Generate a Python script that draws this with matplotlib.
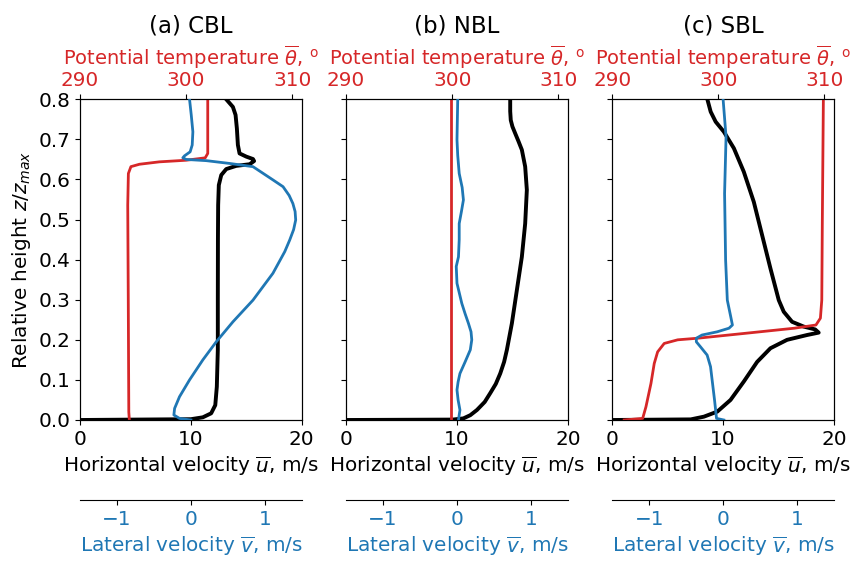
import matplotlib
matplotlib.use("Agg")
import matplotlib.pyplot as plt
import numpy as np

# ---- (a) CBL ----
cbl_z_u = [0.0, 0.002, 0.0067, 0.0167, 0.037, 0.083, 0.175, 0.3, 0.45, 0.536, 0.586, 0.611, 0.626,
           0.634, 0.638, 0.646, 0.651, 0.657, 0.665, 0.686, 0.727, 0.761, 0.781, 0.8]
cbl_u = [0.0, 10.0, 11.08, 11.83, 12.2, 12.34, 12.43, 12.43, 12.44, 12.46, 12.52, 12.74, 13.19,
         14.09, 15.3, 15.7, 15.6, 15.0, 14.39, 14.24, 14.15, 14.03, 13.79, 13.19]
cbl_z_t = [0.0, 0.02, 0.3, 0.536, 0.615, 0.632, 0.638, 0.644, 0.648, 0.654, 0.665, 0.7, 0.8]
cbl_theta = [294.65, 294.6, 294.55, 294.5, 294.56, 294.8, 295.6, 297.48, 300.0, 301.8, 302.04, 302.04, 302.04]
cbl_z_v = [0.0, 0.004, 0.0125, 0.029, 0.058, 0.1, 0.15, 0.195, 0.245, 0.299, 0.366, 0.42, 0.449,
           0.475, 0.499, 0.52, 0.54, 0.56, 0.582, 0.599, 0.632, 0.64, 0.647, 0.65, 0.654, 0.659,
           0.669, 0.686, 0.719, 0.761, 0.8]
cbl_v = [0.0, -0.154, -0.23, -0.22, -0.154, -0.018, 0.162, 0.343, 0.569, 0.84, 1.11, 1.27, 1.337,
         1.39, 1.418, 1.41, 1.38, 1.33, 1.247, 1.11, 0.84, 0.524, 0.208, -0.063, -0.109, -0.086,
         -0.01, 0.018, 0.027, 0.005, -0.018]

# ---- (b) NBL ----
nbl_z_u = [0.0, 0.001, 0.004, 0.012, 0.025, 0.045, 0.067, 0.09, 0.116, 0.145, 0.175, 0.241, 0.324,
           0.407, 0.49, 0.574, 0.632, 0.674, 0.695, 0.715, 0.732, 0.748, 0.77, 0.8]
nbl_u = [0.0, 9.6, 10.58, 11.2, 11.8, 12.5, 13.0, 13.5, 13.9, 14.25, 14.5, 14.95, 15.4,
         15.85, 16.15, 16.3, 16.15, 15.85, 15.55, 15.25, 15.0, 14.85, 14.8, 14.8]
nbl_z_t = [0.0, 0.8]
nbl_theta = [299.9, 299.9]
nbl_z_v = [0.0, 0.025, 0.05, 0.075, 0.095, 0.116, 0.145, 0.175, 0.2, 0.22, 0.241, 0.265, 0.291,
           0.341, 0.383, 0.407, 0.45, 0.49, 0.52, 0.549, 0.58, 0.615, 0.66, 0.699, 0.75, 0.8]
nbl_v = [0.02, 0.04, 0.015, 0.0, 0.015, 0.04, 0.11, 0.18, 0.2, 0.19, 0.155, 0.11, 0.065,
         0.0, -0.01, 0.02, 0.03, 0.03, 0.06, 0.087, 0.07, 0.03, 0.01, 0.0, 0.005, 0.01]

# ---- (c) SBL ----
sbl_z_u = [0.0, 0.0015, 0.0083, 0.021, 0.05, 0.096, 0.145, 0.179, 0.2, 0.212, 0.218, 0.226, 0.233,
           0.245, 0.27, 0.299, 0.378, 0.461, 0.544, 0.619, 0.678, 0.719, 0.744, 0.769, 0.8]
sbl_u = [0.0, 7.08, 8.27, 9.48, 10.67, 11.87, 13.07, 14.27, 15.77, 17.57, 18.62, 18.3, 17.27,
         16.22, 15.47, 15.02, 14.27, 13.52, 12.77, 11.87, 10.97, 10.07, 9.33, 8.88, 8.58]
sbl_z_t = [0.0, 0.004, 0.033, 0.091, 0.141, 0.17, 0.191, 0.2, 0.204, 0.216, 0.229, 0.237, 0.254,
           0.299, 0.49, 0.8]
sbl_theta = [291.13, 292.87, 293.18, 293.65, 293.96, 294.28, 294.9, 296.17, 298.05, 302.45, 307.17,
             309.2, 309.62, 309.75, 309.8, 309.9]
sbl_z_v = [0.0, 0.004, 0.05, 0.133, 0.162, 0.183, 0.195, 0.204, 0.212, 0.22, 0.229, 0.237, 0.258,
           0.299, 0.399, 0.565, 0.706, 0.8]
sbl_v = [0.01, -0.089, -0.116, -0.17, -0.216, -0.308, -0.362, -0.362, -0.285, -0.08, 0.08, 0.126,
         0.103, 0.057, 0.034, 0.02, 0.04, 0.0]

titles = ["(a) CBL", "(b) NBL", "(c) SBL"]
cases = [
    (cbl_z_u, cbl_u, cbl_z_t, cbl_theta, cbl_z_v, cbl_v),
    (nbl_z_u, nbl_u, nbl_z_t, nbl_theta, nbl_z_v, nbl_v),
    (sbl_z_u, sbl_u, sbl_z_t, sbl_theta, sbl_z_v, sbl_v),
]

RED = "#d62728"
BLUE = "#1f77b4"
FS = 14.4
FS_TOP = 14.0

fig, axes = plt.subplots(1, 3, figsize=(8.51, 5.63), dpi=100, sharey=True)
fig.subplots_adjust(left=0.094, right=0.98, top=0.8236, bottom=0.254, wspace=0.2)

for ax, title, (zu, u, zt, th, zv, v) in zip(axes, titles, cases):
    ax.plot(u, zu, color="black", lw=2.8, zorder=3, solid_joinstyle="round")
    ax.set_xlim(0, 20)
    ax.set_ylim(0, 0.8)
    ax.set_xticks([0, 10, 20])
    ax.set_yticks(np.arange(0, 0.81, 0.1))
    ax.set_xlabel(r"Horizontal velocity $\overline{u}$, m/s", fontsize=FS)
    ax.tick_params(labelsize=FS)

    axt = ax.twiny()
    axt.plot(th, zt, color=RED, lw=2.0, solid_joinstyle="round")
    axt.set_xlim(290, 310.9)
    axt.set_xticks([290, 300, 310])
    axt.set_xlabel(r"Potential temperature $\overline{\theta}$, $^\mathrm{o}$", color=RED, fontsize=FS_TOP)
    axt.tick_params(axis="x", labelcolor=RED, labelsize=FS)

    axv = ax.twiny()
    axv.plot(v, zv, color=BLUE, lw=2.0, solid_joinstyle="round")
    axv.set_xlim(-1.5, 1.5)
    axv.set_xticks([-1, 0, 1])
    axv.xaxis.set_ticks_position("bottom")
    axv.xaxis.set_label_position("bottom")
    axv.spines["bottom"].set_position(("axes", -0.25))
    for s in ("top", "left", "right"):
        axv.spines[s].set_visible(False)
    axv.set_xlabel(r"Lateral velocity $\overline{v}$, m/s", color=BLUE, fontsize=FS)
    axv.tick_params(axis="x", labelcolor=BLUE, labelsize=FS)

    ax.set_title(title, fontsize=16.5, pad=8)

axes[0].set_ylabel(r"Relative height $z/z_{max}$", fontsize=FS)

fig.savefig("out.png", dpi=100)
